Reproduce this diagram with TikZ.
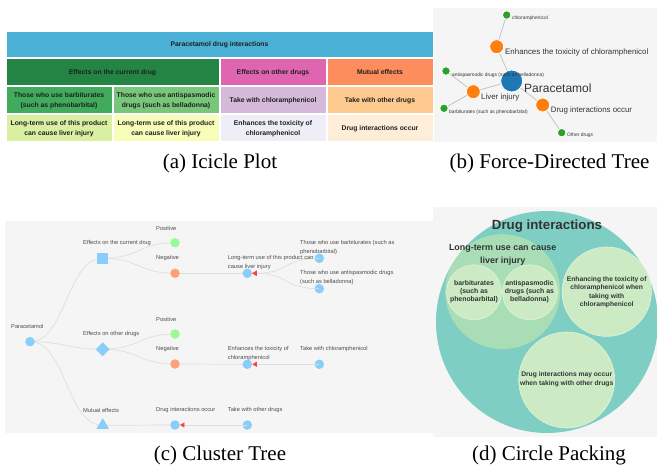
\documentclass[tikz,border=0pt]{standalone}
\usepackage{fontspec}
\setmainfont{Liberation Serif}
\newfontfamily\arialf{Liberation Sans}
\usetikzlibrary{arrows.meta,shapes.geometric}
\pgfdeclarelayer{bg}
\pgfdeclarelayer{edges}
\pgfsetlayers{bg,edges,main}
\definecolor{panelbg}{HTML}{F5F5F5}
\definecolor{icTop}{HTML}{4BB0D5}
\definecolor{icDG}{HTML}{238443}
\definecolor{icPink}{HTML}{DF65B0}
\definecolor{icOr}{HTML}{FD8D5C}
\definecolor{icG}{HTML}{41AB5D}
\definecolor{icLG}{HTML}{78C679}
\definecolor{icLav}{HTML}{D4B9DA}
\definecolor{icLOr}{HTML}{FDC98E}
\definecolor{icY1}{HTML}{D9F0A3}
\definecolor{icY2}{HTML}{F7FCB9}
\definecolor{icY3}{HTML}{EFEDF5}
\definecolor{icY4}{HTML}{FEEDD9}
\definecolor{fdBlue}{HTML}{1F77B4}
\definecolor{fdOrange}{HTML}{FF7F0E}
\definecolor{fdGreen}{HTML}{2CA02C}
\definecolor{ctBlue}{HTML}{87CEFA}
\definecolor{ctGreen}{HTML}{98FB98}
\definecolor{ctOrange}{HTML}{FFA07A}
\definecolor{ctRed}{HTML}{FF4040}
\definecolor{cpTeal}{HTML}{7ECEC4}
\definecolor{cpMid}{HTML}{A8DDB5}
\definecolor{cpLeaf}{HTML}{CCEBC5}
\definecolor{txt}{HTML}{333333}
\begin{document}
\begin{tikzpicture}[x=1pt,y=-1pt,
  cell/.style={draw=white,line width=1pt,inner sep=0pt,align=center,text=black!88,
    font=\arialf\bfseries\fontsize{6.8}{10}\selectfont},
  fdnode/.style={circle,draw=white,line width=0.8pt,inner sep=0pt,minimum size=#1},
  fdedge/.style={draw=black!25,line width=0.7pt},
  fdbig/.style={anchor=west,inner sep=0pt,text=txt,font=\arialf\fontsize{12}{14}\selectfont},
  fdmid/.style={anchor=west,inner sep=0pt,text=txt,font=\arialf\fontsize{7.9}{9}\selectfont},
  fdsmall/.style={anchor=west,inner sep=0pt,text=txt,font=\arialf\fontsize{4.9}{6}\selectfont},
  ctcirc/.style={circle,fill=#1,inner sep=0pt,minimum size=9.5pt},
  ctlab/.style={anchor=west,inner sep=0pt,align=left,text=black!70,font=\arialf\fontsize{5.75}{9}\selectfont},
  ctedge/.style={draw=black!13,line width=0.7pt},
  ctarrow/.style={-{Triangle[length=4.5pt,width=5pt,color=ctRed]}},
  cpc/.style={circle,inner sep=0pt,minimum size=#1},
  cptext/.style={align=center,inner sep=0pt,text=txt},
  captext/.style={anchor=base,inner sep=0pt,font=\fontsize{21}{25}\selectfont}
]
\useasboundingbox (0,0) rectangle (657,468);

% panel backgrounds
\begin{pgfonlayer}{bg}
\fill[panelbg] (433,8) rectangle (657,142);
\fill[panelbg] (5,221) rectangle (433,433);
\fill[panelbg] (433,207) rectangle (657,437);
\end{pgfonlayer}

% ---------- (a) Icicle plot ----------
\node[cell,fill=icTop,minimum width=427pt,minimum height=26pt] (ic0) at (219.5,45) {Paracetamol drug interactions};
\node[cell,fill=icDG,minimum width=213pt,minimum height=27pt] (icA) at (112.5,72.5) {Effects on the current drug};
\node[cell,fill=icPink,minimum width=106pt,minimum height=27pt] (icB) at (273,72.5) {Effects on other drugs};
\node[cell,fill=icOr,minimum width=106pt,minimum height=27pt] (icC) at (380,72.5) {Mutual effects};
\node[cell,fill=icG,minimum width=106pt,minimum height=27pt] (icA1) at (59,100.5) {Those who use barbiturates\\(such as phenobarbital)};
\node[cell,fill=icLG,minimum width=106pt,minimum height=27pt] (icA2) at (166,100.5) {Those who use antispasmodic\\drugs (such as belladonna)};
\node[cell,fill=icLav,minimum width=106pt,minimum height=27pt] (icB1) at (273,100.5) {Take with chloramphenicol};
\node[cell,fill=icLOr,minimum width=106pt,minimum height=27pt] (icC1) at (380,100.5) {Take with other drugs};
\node[cell,fill=icY1,minimum width=106pt,minimum height=27pt] (icA1a) at (59,128.5) {Long-term use of this product\\can cause liver injury};
\node[cell,fill=icY2,minimum width=106pt,minimum height=27pt] (icA2a) at (166,128.5) {Long-term use of this product\\can cause liver injury};
\node[cell,fill=icY3,minimum width=106pt,minimum height=27pt] (icB1a) at (273,128.5) {Enhances the toxicity of\\chloramphenicol};
\node[cell,fill=icY4,minimum width=106pt,minimum height=27pt] (icC1a) at (380,128.5) {Drug interactions occur};

% ---------- (b) Force-directed tree ----------
\node[fdnode=22pt,fill=fdBlue] (fP) at (511.7,81) {};
\node[fdnode=14pt,fill=fdOrange] (fE) at (496.7,46.7) {};
\node[fdnode=8.5pt,fill=fdGreen] (fC) at (506.7,15) {};
\node[fdnode=14pt,fill=fdOrange] (fL) at (473.3,91.7) {};
\node[fdnode=8.5pt,fill=fdGreen] (fA) at (446,71) {};
\node[fdnode=8.5pt,fill=fdGreen] (fB) at (444,108.3) {};
\node[fdnode=14pt,fill=fdOrange] (fD) at (542.7,105) {};
\node[fdnode=8.5pt,fill=fdGreen] (fO) at (561.7,132.7) {};
\begin{pgfonlayer}{edges}
\draw[fdedge] (fP.center) -- (fE.center);
\draw[fdedge] (fP.center) -- (fL.center);
\draw[fdedge] (fP.center) -- (fD.center);
\draw[fdedge] (fE.center) -- (fC.center);
\draw[fdedge] (fL.center) -- (fA.center);
\draw[fdedge] (fL.center) -- (fB.center);
\draw[fdedge] (fD.center) -- (fO.center);
\end{pgfonlayer}
\node[fdsmall] (tC) at (512,18) {chloramphenicol};
\node[fdmid] (tE) at (505,52) {Enhances the toxicity of chloramphenicol};
\node[fdsmall] (tA) at (452,75) {antispasmodic drugs (such as belladonna)};
\node[fdbig] (tP) at (524,88) {Paracetamol};
\node[fdmid] (tL) at (481,97.3) {Liver injury};
\node[fdsmall] (tB) at (449,112) {barbiturates (such as phenobarbital)};
\node[fdmid] (tD) at (550.7,110) {Drug interactions occur};
\node[fdsmall] (tO) at (567,135.7) {Other drugs};

% ---------- (c) Cluster tree ----------
\node[ctcirc=ctBlue] (cp) at (30,341.7) {};
\node[rectangle,fill=ctBlue,inner sep=0pt,minimum size=11.5pt] (ccur) at (102.7,258.3) {};
\node[diamond,fill=ctBlue,inner sep=0pt,minimum size=14pt] (coth) at (102.7,349.3) {};
\node[regular polygon,regular polygon sides=3,fill=ctBlue,inner sep=0pt,minimum size=14.5pt] (cmut) at (102.7,425.3) {};
\node[ctcirc=ctGreen] (cpos1) at (175,242.7) {};
\node[ctcirc=ctOrange] (cneg1) at (175,273.3) {};
\node[ctcirc=ctGreen] (cpos2) at (175,334) {};
\node[ctcirc=ctOrange] (cneg2) at (175,364) {};
\node[ctcirc=ctBlue] (cdio) at (175,425) {};
\node[ctcirc=ctBlue] (clt) at (247.3,273.3) {};
\node[ctcirc=ctBlue] (cbar) at (319.3,258.3) {};
\node[ctcirc=ctBlue] (cant) at (319.3,288.7) {};
\node[ctcirc=ctBlue] (cenh) at (247.3,364.3) {};
\node[ctcirc=ctBlue] (ctwc) at (319.3,364.3) {};
\node[ctcirc=ctBlue] (ctwo) at (247.3,425) {};
\begin{pgfonlayer}{edges}
\draw[ctedge] (cp.center) to[out=0,in=180,distance=36pt] (ccur.center);
\draw[ctedge] (cp.center) to[out=0,in=180,distance=36pt] (coth.center);
\draw[ctedge] (cp.center) to[out=0,in=180,distance=36pt] (cmut.center);
\draw[ctedge] (ccur.center) to[out=0,in=180,distance=36pt] (cpos1.center);
\draw[ctedge] (ccur.center) to[out=0,in=180,distance=36pt] (cneg1.center);
\draw[ctedge] (coth.center) to[out=0,in=180,distance=36pt] (cpos2.center);
\draw[ctedge] (coth.center) to[out=0,in=180,distance=36pt] (cneg2.center);
\draw[ctedge] (cneg1.center) -- (clt.center);
\draw[ctedge] (cneg2.center) -- (cenh.center);
\draw[ctedge] (cmut.center) -- (cdio.center);
\end{pgfonlayer}
\draw[ctedge,ctarrow] (cbar.center) to[out=180,in=0,distance=36pt] (clt);
\draw[ctedge,ctarrow] (cant.center) to[out=180,in=0,distance=36pt] (clt);
\draw[ctedge,ctarrow] (ctwc.center) -- (cenh);
\draw[ctedge,ctarrow] (ctwo.center) -- (cdio);
\node[ctlab] (lp) at (11,326.7) {Paracetamol};
\node[ctlab] (lcur) at (83,243.3) {Effects on the current drug};
\node[ctlab] (loth) at (83,334.3) {Effects on other drugs};
\node[ctlab] (lmut) at (83,410) {Mutual effects};
\node[ctlab] (lpos1) at (156,228.3) {Positive};
\node[ctlab] (lneg1) at (156,258.3) {Negative};
\node[ctlab] (lpos2) at (156,319) {Positive};
\node[ctlab] (lneg2) at (156,349.3) {Negative};
\node[ctlab] (ldio) at (156,410) {Drug interactions occur};
\node[ctlab] (llt) at (227.7,262.8) {Long-term use of this product can\\cause liver injury};
\node[ctlab] (lbar) at (300,247.7) {Those who use barbiturates (such as\\phenobarbital)};
\node[ctlab] (lant) at (300,278) {Those who use antispasmodic drugs\\(such as belladonna)};
\node[ctlab] (lenh) at (227.7,353.8) {Enhances the toxicity of\\chloramphenicol};
\node[ctlab] (ltwc) at (300,349.3) {Take with chloramphenicol};
\node[ctlab] (ltwo) at (227.7,410) {Take with other drugs};

% ---------- (d) Circle packing ----------
\node[cpc=222pt,fill=cpTeal] (kbig) at (547,322) {};
\node[cpc=115pt,fill=cpMid] (klt) at (502.7,291.7) {};
\node[cpc=55pt,fill=cpLeaf,draw=white!40!cpLeaf,line width=0.6pt] (kbar) at (474,292.3) {};
\node[cpc=55pt,fill=cpLeaf,draw=white!40!cpLeaf,line width=0.6pt] (kant) at (530,292.3) {};
\node[cpc=89.4pt,fill=cpLeaf,draw=white!40!cpLeaf,line width=0.6pt] (kenh) at (606.7,291.7) {};
\node[cpc=96pt,fill=cpLeaf,draw=white!40!cpLeaf,line width=0.6pt] (kdio) at (566.7,380) {};
\node[cptext,font=\arialf\bfseries\fontsize{13.3}{15}\selectfont] (ttl) at (547,226) {Drug interactions};
\node[cptext,font=\arialf\bfseries\fontsize{8.9}{13.4}\selectfont] (tlt) at (502.7,255) {Long-term use can cause\\liver injury};
\node[cptext,font=\arialf\bfseries\fontsize{6.9}{8.3}\selectfont] (tbar) at (474,291.7) {barbiturates\\(such as\\phenobarbital)};
\node[cptext,font=\arialf\bfseries\fontsize{6.9}{8.3}\selectfont] (tant) at (529.5,291.7) {antispasmodic\\drugs (such as\\belladonna)};
\node[cptext,font=\arialf\bfseries\fontsize{6.7}{8.1}\selectfont] (tenh) at (606.7,292.3) {Enhancing the toxicity of\\chloramphenicol when\\taking with\\chloramphenicol};
\node[cptext,font=\arialf\bfseries\fontsize{6.7}{8.3}\selectfont] (tdio) at (566.7,379.2) {Drug interactions may occur\\when taking with other drugs};

% ---------- captions ----------
\node[captext] (capa) at (220,168.5) {(a) Icicle Plot};
\node[captext] (capb) at (549.5,168.5) {(b) Force-Directed Tree};
\node[captext] (capc) at (220,460.7) {(c) Cluster Tree};
\node[captext] (capd) at (549,460.7) {(d) Circle Packing};
\end{tikzpicture}
\end{document}
